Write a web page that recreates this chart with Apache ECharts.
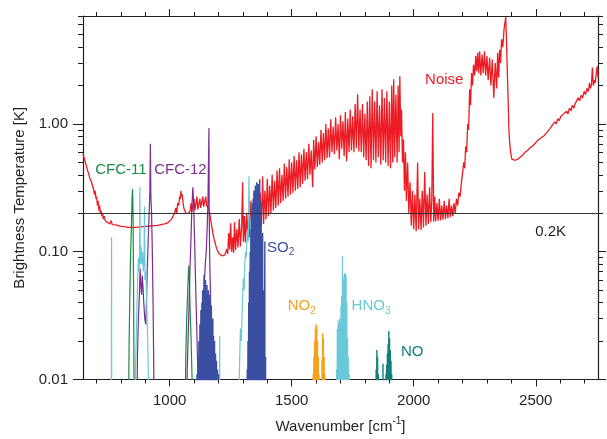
<!DOCTYPE html>
<html>
<head>
<meta charset="utf-8">
<script src="https://cdn.jsdelivr.net/npm/echarts@6.0.0/dist/echarts.min.js"></script>
<style>
  html, body { margin: 0; padding: 0; background: #fff; }
  #chart { width: 607px; height: 439px; }
</style>
</head>
<body>
<div id="chart"></div>
<script>
const X_MIN = 645, X_MAX = 2755;
const Y_MIN = 0.01, Y_MAX = 7;
const FLOOR = 0.001; // below the axis, clipped

const xMajor = [1000, 1500, 2000, 2500];
const xMinor = [700, 800, 900, 1100, 1200, 1300, 1400, 1600, 1700, 1800, 1900, 2100, 2200, 2300, 2400, 2600, 2700];
const yMajor = [0.01, 0.1, 1];
const yMinor = [0.02, 0.03, 0.04, 0.05, 0.06, 0.07, 0.08, 0.09, 0.2, 0.3, 0.4, 0.5, 0.6, 0.7, 0.8, 0.9, 2, 3, 4, 5, 6, 7];
const threshold = 0.2;

// noise spectrum [wavenumber, K]
const noise = [
  [645,0.58],[650,0.54],[655,0.5],[660,0.46],[664,0.43],[668,0.41],[672,0.38],[676,0.37],[680,0.35],[684,0.34],
  [688,0.31],[692,0.28],[695,0.3],[698,0.26],[701,0.27],[704,0.23],[707,0.25],[710,0.21],[713,0.23],[716,0.2],
  [719,0.21],[722,0.19],[725,0.2],[728,0.18],[732,0.19],[736,0.175],[740,0.18],[745,0.17],[750,0.172],[755,0.165],
  [760,0.175],[765,0.163],[770,0.166],[780,0.162],[790,0.16],[800,0.158],[815,0.157],[830,0.155],[845,0.155],[860,0.155],
  [875,0.156],[890,0.157],[905,0.158],[920,0.159],[935,0.16],[950,0.161],[965,0.163],[980,0.165],[992,0.168],[1000,0.172],
  [1008,0.18],[1014,0.19],[1020,0.2],[1025,0.22],[1029,0.2],[1033,0.24],[1037,0.23],[1041,0.27],[1044,0.26],[1046,0.3],
  [1049,0.27],[1052,0.28],[1055,0.24],[1058,0.22],[1062,0.21],[1066,0.2],[1072,0.205],[1078,0.2],[1084,0.21],[1088,0.24],
  [1091,0.205],[1096,0.21],[1100,0.26],[1103,0.21],[1108,0.215],[1112,0.27],[1115,0.215],[1120,0.22],[1124,0.26],[1127,0.22],
  [1132,0.225],[1136,0.27],[1139,0.225],[1144,0.23],[1148,0.27],[1151,0.23],[1156,0.235],[1160,0.22],[1164,0.2],[1168,0.18],
  [1172,0.16],[1176,0.145],[1180,0.13],[1185,0.12],[1190,0.11],[1196,0.102],[1202,0.097],[1208,0.094],[1214,0.093],[1220,0.093],
  [1226,0.094],[1230,0.094],[1234,0.105],[1238,0.096],[1242,0.14],[1246,0.104],[1250,0.167],[1254,0.1],[1258,0.13],[1262,0.098],
  [1266,0.17],[1270,0.103],[1275,0.15],[1280,0.108],[1285,0.18],[1290,0.11],[1295,0.16],[1299,0.35],[1302,0.12],[1306,0.19],
  [1310,0.118],[1315,0.2],[1320,0.125],[1324,0.23],[1328,0.13],[1333,0.25],[1338,0.135],[1343,0.22],[1348,0.14],[1353,0.27],
  [1358,0.145],[1362,0.24],[1366,0.15],[1371,0.29],[1376,0.16],[1381,0.39],[1385,0.165],[1390,0.3],[1395,0.18],[1400,0.37],
  [1405,0.19],[1410,0.33],[1415,0.2],[1420,0.4],[1425,0.21],[1430,0.36],[1435,0.22],[1440,0.43],[1445,0.23],[1450,0.45],
  [1455,0.24],[1460,0.4],[1465,0.25],[1470,0.49],[1475,0.26],[1480,0.46],[1485,0.27],[1490,0.53],[1495,0.28],[1500,0.5],
  [1505,0.29],[1510,0.56],[1515,0.3],[1520,0.52],[1525,0.31],[1530,0.6],[1535,0.32],[1540,0.58],[1545,0.34],[1550,0.64],
  [1555,0.36],[1560,0.6],[1565,0.37],[1570,0.7],[1575,0.4],[1580,0.62],[1586,0.32],[1590,0.75],[1595,0.44],[1600,0.8],
  [1605,0.46],[1610,0.72],[1615,0.48],[1620,0.9],[1625,0.5],[1630,0.85],[1635,0.52],[1640,1.0],[1645,0.54],[1650,0.92],
  [1655,0.55],[1660,1.09],[1665,0.6],[1670,0.95],[1675,0.58],[1680,1.13],[1685,0.62],[1690,1.0],[1695,0.53],[1700,1.17],
  [1705,0.64],[1710,1.05],[1715,0.56],[1720,1.24],[1725,0.51],[1730,1.1],[1735,0.6],[1740,1.3],[1745,0.62],[1750,1.15],
  [1755,0.6],[1760,1.43],[1765,0.65],[1770,1.71],[1775,0.61],[1780,1.3],[1785,0.6],[1790,1.43],[1795,0.55],[1800,1.2],
  [1805,0.52],[1810,1.5],[1815,0.47],[1820,1.65],[1825,0.45],[1830,1.87],[1835,0.52],[1840,1.5],[1845,0.5],[1850,1.8],
  [1855,0.55],[1860,1.4],[1865,0.48],[1870,1.87],[1875,0.52],[1880,1.6],[1885,0.5],[1890,1.8],[1895,0.47],[1900,1.5],
  [1905,0.45],[1910,2.0],[1914,0.5],[1918,2.24],[1922,0.55],[1927,1.7],[1932,0.5],[1936,2.0],[1940,0.6],[1943,2.36],
  [1947,0.8],[1950,1.3],[1954,0.5],[1958,0.76],[1962,0.3],[1966,0.6],[1970,0.25],[1975,0.5],[1980,0.2],[1985,0.35],
  [1990,0.16],[1995,0.3],[2000,0.15],[2005,0.28],[2010,0.145],[2016,0.5],[2020,0.15],[2025,0.26],[2030,0.148],[2035,0.3],
  [2040,0.155],[2045,0.42],[2050,0.16],[2055,0.28],[2060,0.165],[2065,0.32],[2070,0.17],[2074,0.25],[2078,1.22],[2082,0.172],
  [2086,0.27],[2090,0.173],[2095,0.24],[2100,0.175],[2105,0.26],[2110,0.176],[2115,0.23],[2120,0.178],[2125,0.25],[2130,0.18],
  [2135,0.23],[2140,0.183],[2145,0.26],[2150,0.186],[2155,0.23],[2160,0.19],[2165,0.24],[2170,0.2],[2175,0.26],[2180,0.23],
  [2185,0.29],[2190,0.27],[2195,0.34],[2200,0.35],[2205,0.5],[2209,0.45],[2213,0.67],[2217,0.6],[2221,1.0],[2225,0.9],
  [2229,1.87],[2233,1.4],[2237,2.5],[2241,2.0],[2245,2.9],[2250,2.4],[2254,3.4],[2258,2.6],[2262,3.6],[2266,2.5],
  [2270,3.7],[2275,2.4],[2280,3.5],[2285,2.5],[2290,3.7],[2295,2.4],[2300,3.4],[2305,2.2],[2311,3.3],[2316,2.0],
  [2322,3.2],[2328,1.6],[2334,3.0],[2340,1.9],[2344,3.6],[2348,2.3],[2352,3.8],[2356,3.0],[2360,4.6],[2365,4.0],
  [2370,5.5],[2374,5.6],[2377,6.9],[2380,4.5],[2384,2.4],[2387,1.5],[2390,0.9],[2393,0.72],[2398,0.58],[2402,0.53],
  [2408,0.515],[2416,0.52],[2426,0.53],[2436,0.55],[2446,0.57],[2456,0.6],[2466,0.62],[2476,0.65],[2486,0.67],[2496,0.7],
  [2500,0.72],[2504,0.7],[2510,0.75],[2516,0.73],[2522,0.78],[2528,0.76],[2534,0.81],[2540,0.79],[2546,0.86],[2552,0.83],
  [2558,0.92],[2563,0.9],[2568,0.98],[2573,0.95],[2578,1.04],[2584,1.0],[2590,1.1],[2596,1.06],[2602,1.14],[2608,1.1],
  [2614,1.2],[2620,1.16],[2626,1.26],[2632,1.2],[2638,1.33],[2644,1.27],[2650,1.4],[2656,1.33],[2662,1.45],[2668,1.4],
  [2674,1.6],[2680,1.52],[2686,1.68],[2692,1.6],[2698,1.8],[2704,1.7],[2710,1.9],[2716,1.8],[2720,2.1],[2724,1.9],
  [2728,2.0],[2732,2.77],[2736,2.0],[2740,2.2],[2744,2.1],[2748,2.5],[2752,2.83],[2755,2.3]
];

// tracer signals, outline traces [wavenumber, K]
const cfc11 = [
  [828,FLOOR],[834,0.02],[839,0.078],[843,0.15],[846,0.26],[848,0.31],[850,0.2],[852,0.06],[854,0.01],[856,FLOOR],
  [1060,FLOOR],[1066,0.015],[1070,0.03],[1074,0.05],[1078,0.078],[1081,0.06],[1084,0.035],[1088,0.02],[1092,0.01],[1096,FLOOR]
];
const cfc12 = [
  [862,FLOOR],[868,0.015],[872,0.03],[876,0.046],[879,0.074],[882,0.055],[885,0.046],[888,0.065],[891,0.052],[894,0.04],
  [898,0.03],[902,0.027],[905,0.04],[908,0.07],[912,0.12],[916,0.2],[919,0.3],[921,0.7],[923,0.275],[926,0.2],
  [929,0.1],[932,0.04],[935,0.012],[938,FLOOR],
  [1066,FLOOR],[1072,0.012],[1078,0.03],[1083,0.07],[1087,0.12],[1091,0.22],[1095,0.32],[1098,0.25],[1102,0.13],[1106,0.06],
  [1110,0.03],[1114,0.015],[1118,0.008],[1122,FLOOR],
  [1124,FLOOR],[1130,0.012],[1136,0.025],[1141,0.05],[1146,0.08],[1150,0.1],[1154,0.16],[1157,0.25],[1161,0.93],[1162,0.2],
  [1164,0.09],[1167,0.05],[1170,0.025],[1174,0.01],[1178,FLOOR]
];
const hno3 = [
  [761,FLOOR],[762,0.13],[763,FLOOR],
  [854,FLOOR],[860,0.012],[865,0.03],[869,0.062],[872,0.09],[875,0.07],[877,0.1],[878,0.32],[880,0.08],[883,0.11],
  [886,0.08],[889,0.1],[892,0.07],[895,0.09],[897,0.226],[899,0.06],[903,0.07],[906,0.04],[910,0.02],[914,0.008],[917,FLOOR],
  [1204,FLOOR],[1205,0.022],[1206,FLOOR],
  [1280,FLOOR],[1286,0.012],[1290,0.025],[1294,0.02],[1298,0.04],[1302,0.062],[1305,0.05],[1308,0.08],[1311,0.1],[1314,0.09],
  [1317,0.13],[1320,0.15],[1322,0.12],[1325,0.39],[1327,0.2],[1330,0.17],[1333,0.1],[1336,0.06],[1339,0.02],[1342,FLOOR]
];

// tracer signals, individual lines [wavenumber, peak K]
const hno3Lines = [
  [1684,0.012],[1687,0.025],[1690,0.029],[1693,0.027],[1696,0.03],[1699,0.028],[1702,0.038],[1705,0.045],[1708,0.092],[1711,0.06],
  [1714,0.065],[1717,0.068],[1720,0.068],[1723,0.065],[1726,0.04],[1729,0.021],[1732,0.015],[1736,0.011]
];
const so2Lines = [
  [1112,0.011],[1116,0.015],[1120,0.02],[1124,0.027],[1128,0.035],[1132,0.04],[1135,0.05],[1138,0.045],[1141,0.066],[1144,0.05],
  [1147,0.06],[1150,0.047],[1153,0.055],[1156,0.045],[1159,0.05],[1162,0.04],[1165,0.046],[1168,0.035],[1171,0.038],[1174,0.028],
  [1177,0.03],[1180,0.022],[1184,0.02],[1188,0.016],[1192,0.014],[1196,0.012],[1200,0.011],
  [1318,0.012],[1321,0.02],[1324,0.04],[1327,0.07],[1330,0.1],[1333,0.15],[1336,0.2],[1339,0.24],[1342,0.26],[1345,0.3],
  [1348,0.28],[1351,0.33],[1354,0.3],[1357,0.35],[1360,0.32],[1363,0.34],[1366,0.3],[1369,0.37],[1372,0.25],[1375,0.2],
  [1378,0.12],[1381,0.14],[1384,0.05],[1387,0.03],[1390,0.12],[1393,0.015]
];
const no2Lines = [
  [1588,0.011],[1591,0.015],[1594,0.02],[1597,0.025],[1600,0.027],[1603,0.026],[1606,0.02],[1609,0.015],[1612,0.011],
  [1624,0.014],[1627,0.023],[1630,0.021],[1633,0.015],[1636,0.011]
];
const noLines = [
  [1846,0.012],[1849,0.017],[1852,0.015],[1855,0.011],[1874,0.0133],
  [1886,0.011],[1889,0.013],[1892,0.016],[1895,0.019],[1898,0.024],[1901,0.021],[1904,0.017],[1907,0.014],[1910,0.011]
];

const FONT = 'Liberation Sans, Arial, Helvetica, sans-serif';
const INK = '#231f20';
const C = {
  noise: '#ed1c24', cfc11: '#1b8a45', cfc12: '#7b2c8c', so2: '#3a4ea2',
  no2: '#f5a11c', hno3: '#69c9d8', no: '#11807a'
};

function sticks(list) {
  const out = [];
  list.forEach(([x, v]) => { out.push([x, FLOOR], [x, v], [x, FLOOR]); });
  return out;
}

function tag(coord, text, color) {
  return {
    symbol: 'circle', symbolSize: 0, silent: true, animation: false,
    label: {
      show: true, position: 'inside', formatter: text,
      color: color, fontSize: 15, fontFamily: FONT,
      rich: {
        a: { fontSize: 15, color: color, fontFamily: FONT, lineHeight: 20 },
        s: { fontSize: 10, color: color, fontFamily: FONT, lineHeight: 12, verticalAlign: 'bottom' }
      }
    },
    data: [{ coord: coord }]
  };
}

function xAx(pos, ticks, len, labels) {
  return {
    type: 'value', position: pos, min: X_MIN, max: X_MAX,
    axisLine: { show: len > 5, onZero: false, lineStyle: { color: INK, width: 1.2 } },
    axisTick: { show: true, inside: false, length: len, customValues: ticks, lineStyle: { color: INK, width: 1 } },
    axisLabel: labels ? {
      customValues: ticks, margin: 14, fontSize: 15, color: INK, fontFamily: FONT,
      formatter: v => String(v)
    } : { show: false },
    splitLine: { show: false }
  };
}
function yAx(pos, ticks, len, labels) {
  return {
    type: 'log', logBase: 10, position: pos, min: Y_MIN, max: Y_MAX,
    axisLine: { show: len > 6, onZero: false, lineStyle: { color: INK, width: 1.2 } },
    axisTick: { show: true, inside: false, length: len, customValues: ticks, lineStyle: { color: INK, width: 1 } },
    axisLabel: labels ? {
      customValues: ticks, margin: 15, fontSize: 15, color: INK, fontFamily: FONT,
      formatter: v => Number(v).toFixed(2)
    } : { show: false },
    splitLine: { show: false }, minorTick: { show: false }
  };
}

const xAxes = [xAx('bottom', xMajor, 7, true), xAx('bottom', xMinor, 4, false), xAx('top', xMajor, 7, false), xAx('top', xMinor, 4, false)];
Object.assign(xAxes[0], {
  name: '{a|Wavenumber [cm}{p|-1}{a|]}', nameLocation: 'middle', nameGap: 37,
  nameTextStyle: {
    rich: {
      a: { fontSize: 15, color: INK, fontFamily: FONT, lineHeight: 20 },
      p: { fontSize: 10, color: INK, fontFamily: FONT, lineHeight: 10, verticalAlign: 'top' }
    }
  }
});
const yAxes = [yAx('left', yMajor, 10, true), yAx('left', yMinor, 5, false), yAx('right', yMajor, 8, false), yAx('right', yMinor, 5, false)];
Object.assign(yAxes[0], {
  name: 'Brightness Temperature [K]', nameLocation: 'middle', nameGap: 56, nameRotate: 90,
  nameTextStyle: { fontSize: 15, color: INK, fontFamily: FONT }
});

function lineSeries(name, data, color, width, extra) {
  return Object.assign({
    name: name, type: 'line', data: data, xAxisIndex: 0, yAxisIndex: 0,
    showSymbol: false, symbol: 'none', clip: true, animation: false,
    lineStyle: { color: color, width: width }, itemStyle: { color: color }
  }, extra || {});
}

const chart = echarts.init(document.getElementById('chart'));
chart.setOption({
  animation: false,
  backgroundColor: '#fff',
  grid: { left: 83, right: 9, top: 16, bottom: 57, containLabel: false },
  xAxis: xAxes,
  yAxis: yAxes,
  series: [
    lineSeries('Noise', noise, C.noise, 1.3, {
      markPoint: {
        symbol: 'circle', symbolSize: 0, silent: true, animation: false,
        label: { show: true, position: 'inside', fontSize: 15, fontFamily: FONT },
        data: [
          { coord: [2125, 2.22], label: { formatter: 'Noise', color: C.noise } },
          { coord: [2561, 0.143], label: { formatter: '0.2K', color: INK } }
        ]
      }
    }),
    lineSeries('CFC-11', cfc11, C.cfc11, 1.2, { markPoint: tag([800, 0.438], '{a|CFC-11}', C.cfc11) }),
    lineSeries('CFC-12', cfc12, C.cfc12, 1.2, { markPoint: tag([1044, 0.438], '{a|CFC-12}', C.cfc12) }),
    lineSeries('HNO3', hno3.concat(sticks(hno3Lines)), C.hno3, 1.2, { markPoint: tag([1825, 0.0377], '{a|HNO}{s|3}', C.hno3) }),
    lineSeries('SO2', sticks(so2Lines), C.so2, 1.4, { markPoint: tag([1455, 0.108], '{a|SO}{s|2}', C.so2) }),
    lineSeries('NO2', sticks(no2Lines), C.no2, 1.4, { markPoint: tag([1541, 0.0377], '{a|NO}{s|2}', C.no2) }),
    lineSeries('NO', sticks(noLines), C.no, 1.4, {
      markPoint: tag([1994, 0.0166], '{a|NO}', C.no),
      markLine: {
        silent: true, animation: false, symbol: ['none', 'none'], label: { show: false },
        lineStyle: { color: '#333', type: 'solid', width: 1.2 },
        data: [{ yAxis: threshold }]
      }
    })
  ]
});
</script>
</body>
</html>
